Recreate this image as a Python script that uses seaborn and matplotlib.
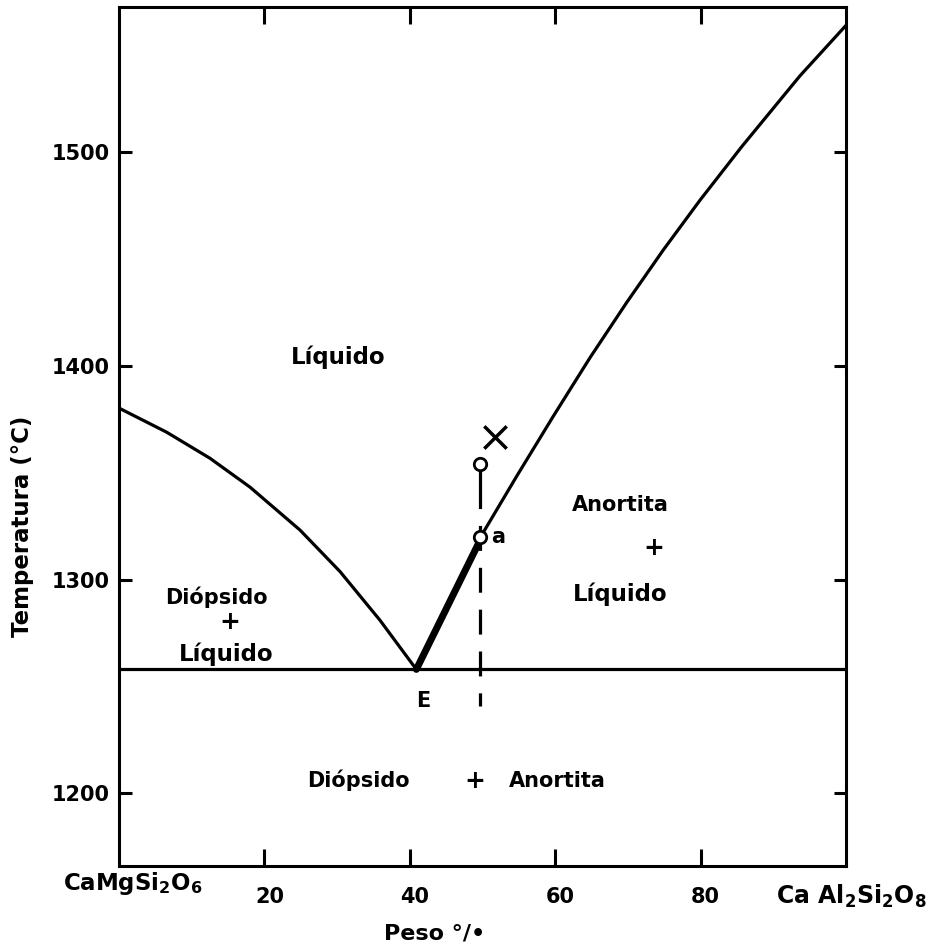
import numpy as np
import pandas as pd
import seaborn as sns
import matplotlib
matplotlib.use("Agg")
import matplotlib.pyplot as plt
from matplotlib.transforms import ScaledTranslation

sns.set_style("ticks")
plt.rcParams['font.family'] = ['DejaVu Sans']
plt.rcParams['font.weight'] = 'bold'
plt.rcParams['mathtext.fontset'] = 'dejavusans'
for k in ['text.color', 'axes.labelcolor', 'xtick.color', 'ytick.color', 'axes.edgecolor']:
    plt.rcParams[k] = 'black'

# ---- data ----
diop_x = [0, 6.56, 12.52, 18.02, 24.90, 30.40, 35.90, 40.9]
diop_T = [1380.3, 1369.0, 1356.8, 1343.3, 1323.2, 1303.8, 1281.0, 1258]

anor_x = [40.9, 50.07, 54.70, 59.74, 64.79, 69.83, 74.87, 79.92, 85.65, 93.67, 100]
anor_T = [1258, 1321.9, 1348.4, 1376.5, 1403.9, 1429.7, 1454.3, 1477.6, 1502.6, 1535.8, 1559.4]

eut_x = [0, 100]
eut_T = [1258, 1258]

thick_x = [40.9, 49.6]
thick_T = [1258, 1318]

comp_x = 49.7
start_T = 1354
a_T = 1320
solid_T = [1354, 1338]
dash_T = [1338, 1241]
cross_x, cross_T = 51.7, 1367

xticks = [20, 40, 60, 80]
xtick_labels = ["20", "40", "60", "80"]
yticks = [1200, 1300, 1400, 1500]
ytick_labels = ["1200", "1300", "1400", "1500"]

fig = plt.figure(figsize=(9.3, 9.46), dpi=100)
ax = fig.add_axes([119/930, 1-866/946, (846-119)/930, (866-7)/946])

lw = 2.3
sns.lineplot(x=diop_x, y=diop_T, ax=ax, color='black', lw=lw, sort=False, estimator=None)
sns.lineplot(x=anor_x, y=anor_T, ax=ax, color='black', lw=lw, sort=False, estimator=None)
sns.lineplot(x=eut_x, y=eut_T, ax=ax, color='black', lw=lw, sort=False, estimator=None)
sns.lineplot(x=thick_x, y=thick_T, ax=ax, color='black', lw=5, sort=False, estimator=None)
sns.lineplot(x=[comp_x, comp_x], y=solid_T, ax=ax, color='black', lw=lw, sort=False, estimator=None)
sns.lineplot(x=[comp_x, comp_x], y=dash_T, ax=ax, color='black', lw=lw, sort=False,
             estimator=None, linestyle=(4.5, (7.8, 5.3)))

sns.scatterplot(x=[comp_x, comp_x], y=[start_T, a_T], ax=ax, marker='o', s=80,
                facecolor='white', edgecolor='black', linewidth=2, zorder=5)
sns.scatterplot(x=[cross_x], y=[cross_T], ax=ax, marker='x', s=260, color='black',
                linewidth=2.5, zorder=5)

ax.set_xlim(0, 100)
ax.set_ylim(1166, 1568)
ax.set_xticks(xticks)
ax.set_xticklabels(xtick_labels)
ax.set_yticks(yticks)
ax.set_yticklabels(ytick_labels)
ax.set_xlabel("")
ax.set_ylabel("")

for s in ax.spines.values():
    s.set_visible(True)
    s.set_linewidth(2.2)
    s.set_color('black')

ax.tick_params(axis='x', direction='in', length=12, width=2.2, top=True, bottom=True,
               labelsize=15, pad=15, colors='black')
ax.tick_params(axis='y', direction='in', length=9, width=2.2, left=True, right=True,
               labelsize=15, pad=6.5, colors='black')
off = ScaledTranslation(5/100, 0, fig.dpi_scale_trans)
for lab in ax.get_xticklabels():
    lab.set_transform(lab.get_transform() + off)
    lab.set_fontweight('bold')
for lab in ax.get_yticklabels():
    lab.set_fontweight('bold')

txt = dict(fontsize=15, fontweight='bold', ha='center', va='center', color='black')
liq = dict(fontsize=16.5, fontweight='bold', ha='center', va='center', color='black')
plus = dict(fontsize=18, fontweight='bold', ha='center', va='center', color='black')
ax.text(30.1, 1404, "Líquido", **liq)
ax.text(68.9, 1335, "Anortita", **txt)
ax.text(73.5, 1315, "+", **plus)
ax.text(68.9, 1293, "Líquido", **liq)
ax.text(13.4, 1292, "Diópsido", **txt)
ax.text(15.3, 1280, "+", **plus)
ax.text(14.8, 1265, "Líquido", **liq)
ax.text(41.8, 1243, "E", **txt)
ax.text(52.1, 1320, "a", **txt)
ax.text(32.9, 1206, "Diópsido", **txt)
ax.text(49.0, 1206, "+", **plus)
ax.text(60.3, 1206, "Anortita", **txt)

ax.text(-0.133, 0.395, "Temperatura (°C)", transform=ax.transAxes, rotation=90,
        fontsize=16.5, fontweight='bold', ha='center', va='center', color='black')
fig.text(435/930, 1-933/946, "Peso °/•", fontsize=16, fontweight='bold',
         ha='center', va='center', color='black')
fig.text(133/930, 1-890/946, r"$\mathbf{CaMgSi_2O_6}$", fontsize=16.5,
         ha='center', va='baseline', color='black')
fig.text(851/930, 1-904/946, r"$\mathbf{Ca\ Al_2Si_2O_8}$", fontsize=17,
         ha='center', va='baseline', color='black')

fig.savefig("out.png", dpi=100, facecolor='white')
